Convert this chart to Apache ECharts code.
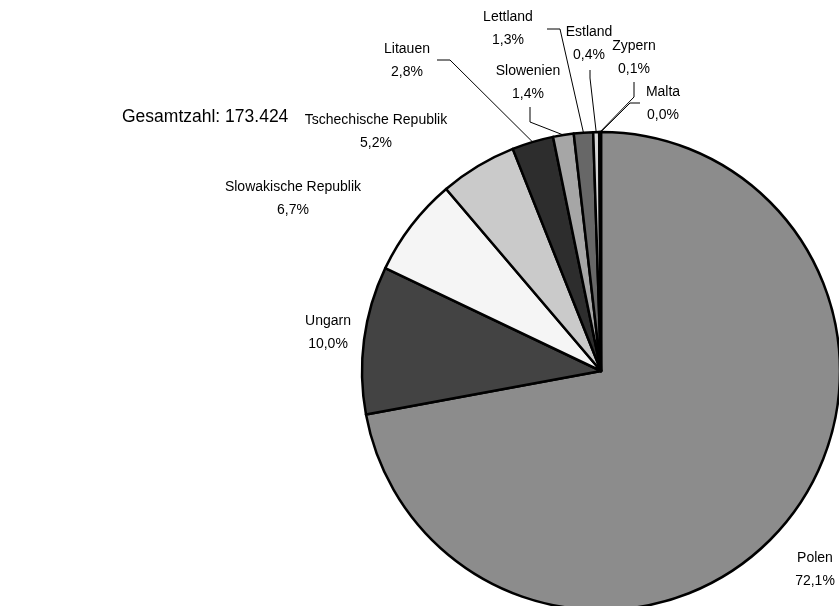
<!DOCTYPE html>
<html>
<head>
<meta charset="utf-8">
<script src="https://cdn.jsdelivr.net/npm/echarts@6/dist/echarts.min.js"></script>
<style>
  html, body { margin: 0; padding: 0; background: #fff; }
  #chart { width: 839px; height: 606px; }
</style>
</head>
<body>
<div id="chart"></div>
<script>
// Anteile in Prozent (im Uhrzeigersinn ab 12 Uhr)
const countries = ['Polen', 'Ungarn', 'Slowakische Republik', 'Tschechische Republik', 'Litauen',
  'Slowenien', 'Lettland', 'Estland', 'Zypern', 'Malta'];
const shares = [72.1, 10.0, 6.7, 5.2, 2.8, 1.4, 1.3, 0.4, 0.1, 0.02];
const sliceColors = ['#8c8c8c', '#434343', '#f5f5f5', '#cacaca', '#2d2d2d',
  '#a6a6a6', '#676767', '#d6d6d6', '#1a1a1a', '#ffffff'];
const totalText = 'Gesamtzahl: 173.424';

// Position der Beschriftungen (Mittelpunkt des Textblocks)
const labelPos = [
  [815, 570], [328, 333], [293, 199], [376, 132], [407, 61],
  [528, 83], [508, 29], [589, 44], [634, 58], [663, 104]
];
// Führungslinien: Ansatz an der Beschriftung und Knickpunkt (null = keine Linie)
const leader = [
  null, null, null, null,
  [[437, 60], [450, 60]],
  [[530, 107], [530, 122]],
  [[547, 29], [560, 29]],
  [[590, 70], [590, 78]],
  [[634, 82], [634, 97]],
  [[640, 103], [630, 103]]
];

const chart = echarts.init(document.getElementById('chart'));

chart.setOption({
  animation: false,
  graphic: [{
    type: 'text',
    left: 122,
    top: 108,
    style: { text: totalText, font: '17.5px "Liberation Sans", Arial, sans-serif', fill: '#000' }
  }],
  series: [{
    type: 'pie',
    center: [601, 371],
    radius: 239,
    startAngle: 90,
    clockwise: true,
    minAngle: 0,
    avoidLabelOverlap: false,
    itemStyle: { borderColor: '#000', borderWidth: 2.5 },
    label: {
      show: true,
      color: '#000',
      fontFamily: '"Liberation Sans", Arial, sans-serif',
      fontSize: 14,
      lineHeight: 23,
      align: 'center',
      formatter: p => p.name + '\n' + p.value.toFixed(1).replace('.', ',') + '%'
    },
    labelLine: { show: true, lineStyle: { color: '#000', width: 1 } },
    labelLayout: p => {
      const res = {
        x: labelPos[p.dataIndex][0],
        y: labelPos[p.dataIndex][1],
        align: 'center',
        verticalAlign: 'middle'
      };
      const l = leader[p.dataIndex];
      if (l && p.labelLinePoints) {
        res.labelLinePoints = [p.labelLinePoints[0], l[1], l[0]];
      }
      return res;
    },
    data: countries.map((c, i) => ({
      name: c,
      value: shares[i],
      itemStyle: { color: sliceColors[i] },
      labelLine: { show: leader[i] !== null }
    }))
  }]
});
</script>
</body>
</html>
